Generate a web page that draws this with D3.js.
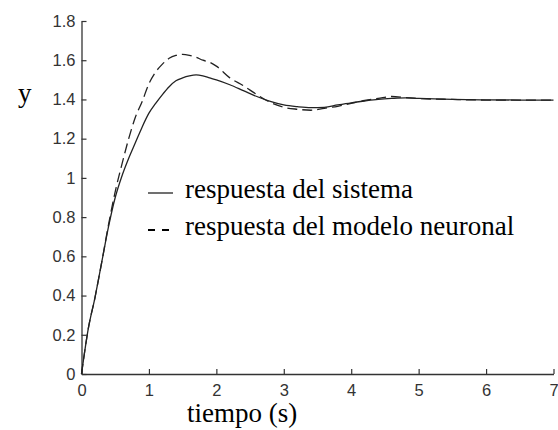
<!DOCTYPE html>
<html>
<head>
<meta charset="utf-8">
<script src="https://cdn.jsdelivr.net/npm/d3@7"></script>
<style>
  html, body { margin: 0; padding: 0; background: #fff; }
  svg { display: block; }
</style>
</head>
<body>
<svg id="chart" width="558" height="430"></svg>
<script>
// Step response: time (s)
const tiempo = [0, 0.1, 0.2, 0.3, 0.4, 0.5, 0.6, 0.7, 0.8, 0.9, 1.0, 1.1, 1.2, 1.3, 1.4, 1.5, 1.6, 1.7, 1.8, 1.9,
  2.0, 2.2, 2.4, 2.6, 2.8, 3.0, 3.2, 3.4, 3.6, 3.8, 4.0, 4.2, 4.4, 4.6, 4.8, 5.0, 5.5, 6.0, 6.5, 7.0];

// Plant output
const respuestaSistema = [0, 0.23, 0.39, 0.57, 0.75, 0.90, 1.01, 1.10, 1.18, 1.26, 1.33, 1.38, 1.425, 1.465, 1.495, 1.51, 1.52, 1.525, 1.52, 1.51,
  1.50, 1.475, 1.445, 1.415, 1.39, 1.372, 1.363, 1.358, 1.36, 1.372, 1.383, 1.392, 1.40, 1.405, 1.408, 1.405, 1.40, 1.398, 1.397, 1.397];

// Neural model output
const respuestaModelo = [0, 0.23, 0.39, 0.57, 0.76, 0.93, 1.07, 1.20, 1.31, 1.39, 1.48, 1.54, 1.58, 1.61, 1.625, 1.63, 1.625, 1.615, 1.60, 1.59,
  1.57, 1.51, 1.47, 1.425, 1.385, 1.36, 1.35, 1.345, 1.355, 1.365, 1.38, 1.395, 1.405, 1.415, 1.41, 1.405, 1.40, 1.397, 1.397, 1.397];

const xTicks = [0, 1, 2, 3, 4, 5, 6, 7];
const yTicks = [0, 0.2, 0.4, 0.6, 0.8, 1, 1.2, 1.4, 1.6, 1.8];
const legendLabels = ["respuesta del sistema", "respuesta del modelo neuronal"];

const svg = d3.select("#chart");
const x = d3.scaleLinear().domain([0, 7]).range([81.5, 553.5]);
const y = d3.scaleLinear().domain([0, 1.8]).range([374, 21]);

const tickFont = "'Liberation Sans', Arial, sans-serif";
const serif = "'Liberation Serif', 'Times New Roman', serif";

// Axes (left and bottom only, ticks pointing inward)
const xAxis = svg.append("g").attr("transform", `translate(0,${y(0)})`)
  .call(d3.axisBottom(x).tickValues(xTicks).tickSizeInner(-5).tickSizeOuter(0).tickPadding(10).tickFormat(d3.format("d")));
const yAxis = svg.append("g").attr("transform", `translate(${x(0)},0)`)
  .call(d3.axisLeft(y).tickValues(yTicks).tickSizeInner(-5).tickSizeOuter(0).tickPadding(6).tickFormat(d => d3.format("~g")(d)));

[xAxis, yAxis].forEach(g => {
  g.select(".domain").attr("stroke", "#333").attr("stroke-width", 1.3);
  g.selectAll(".tick line").attr("stroke", "#333").attr("stroke-width", 1.2);
  g.selectAll(".tick text").attr("fill", "#333").style("font-family", tickFont).style("font-size", "16.5px");
});
xAxis.selectAll(".tick text").attr("dy", "0.71em");

// Curves
const line = d3.line().x((d, i) => x(tiempo[i])).y(d => y(d)).curve(d3.curveMonotoneX);

svg.append("path").datum(respuestaSistema)
  .attr("d", line).attr("fill", "none").attr("stroke", "#222").attr("stroke-width", 1.3);
svg.append("path").datum(respuestaModelo)
  .attr("d", line).attr("fill", "none").attr("stroke", "#222").attr("stroke-width", 1.3)
  .attr("stroke-dasharray", "10,5");

// Axis titles
svg.append("text").attr("x", 18).attr("y", 102).text("y")
  .style("font-family", serif).style("font-size", "27px").attr("fill", "#000");
svg.append("text").attr("x", 187).attr("y", 422).text("tiempo (s)")
  .style("font-family", serif).style("font-size", "27px").attr("fill", "#000");

// Legend
const leg = svg.append("g");
leg.append("line").attr("x1", 148).attr("x2", 173).attr("y1", 193).attr("y2", 193)
  .attr("stroke", "#222").attr("stroke-width", 1.3);
leg.append("line").attr("x1", 148).attr("x2", 170).attr("y1", 230).attr("y2", 230)
  .attr("stroke", "#000").attr("stroke-width", 2).attr("stroke-dasharray", "7,7");
leg.selectAll("text.lbl").data(legendLabels).enter().append("text")
  .attr("class", "lbl")
  .attr("x", 185).attr("y", (d, i) => 198 + i * 37)
  .text(d => d)
  .style("font-family", serif).style("font-size", "27px").attr("fill", "#000");
</script>
</body>
</html>
